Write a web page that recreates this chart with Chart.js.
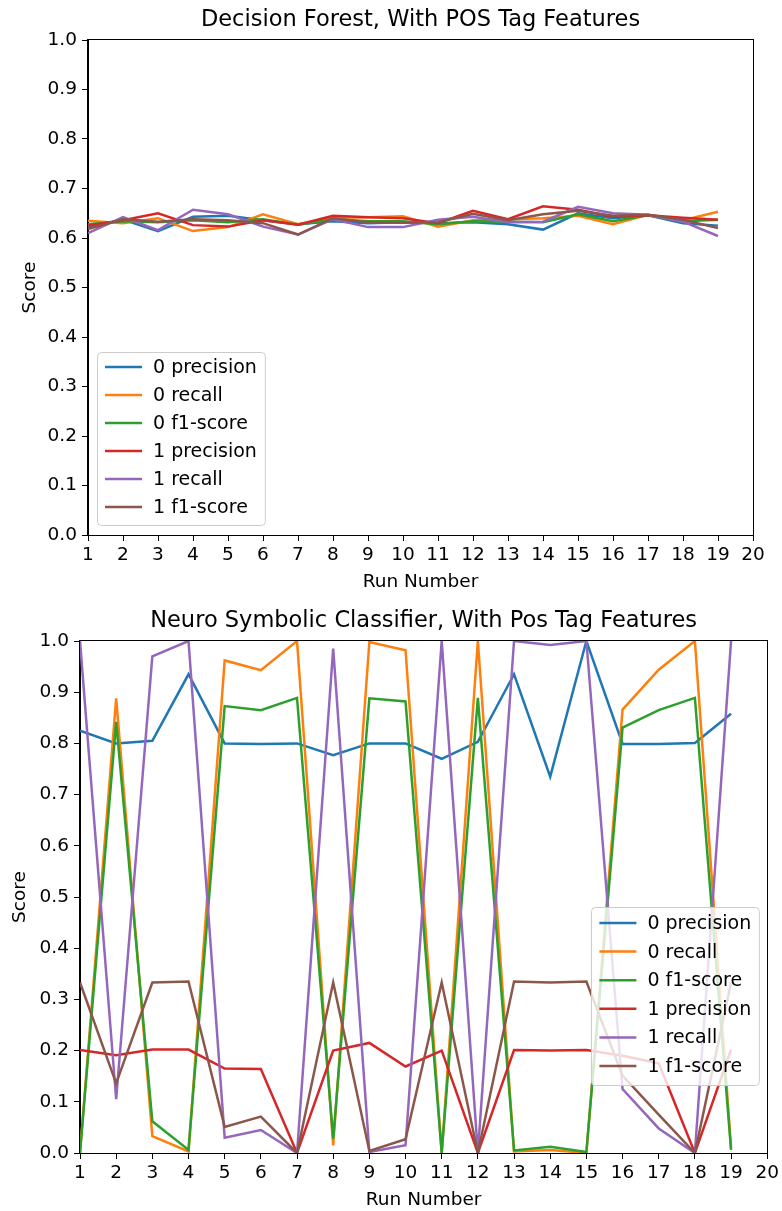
<!DOCTYPE html>
<html>
<head>
<meta charset="utf-8">
<title>Decision Forest / Neuro Symbolic Classifier scores</title>
<script src="https://cdn.jsdelivr.net/npm/chart.js@4.4.1/dist/chart.umd.min.js"></script>
<style>
  html, body { margin: 0; padding: 0; background: #fff; }
  #wrap { position: relative; width: 782px; height: 1211px; }
  canvas { position: absolute; left: 0; }
  #forestChart { top: 0; }
  #neuroChart { top: 600px; }
</style>
</head>
<body>
<div id="wrap">
  <canvas id="forestChart" width="782" height="600"></canvas>
  <canvas id="neuroChart" width="782" height="611"></canvas>
</div>
<script>
const runs = [1, 2, 3, 4, 5, 6, 7, 8, 9, 10, 11, 12, 13, 14, 15, 16, 17, 18, 19];
const seriesLabels = ['0 precision', '0 recall', '0 f1-score', '1 precision', '1 recall', '1 f1-score'];
const seriesColors = ['#1f77b4', '#ff7f0e', '#2ca02c', '#d62728', '#9467bd', '#8c564b'];

// Decision Forest, With POS Tag Features
const forestPrecision0 = [0.622, 0.637, 0.614, 0.643, 0.645, 0.636, 0.628, 0.634, 0.630, 0.632, 0.630, 0.632, 0.628, 0.617, 0.650, 0.640, 0.646, 0.630, 0.625];
const forestRecall0    = [0.635, 0.630, 0.640, 0.614, 0.622, 0.648, 0.628, 0.641, 0.642, 0.644, 0.623, 0.636, 0.638, 0.640, 0.645, 0.628, 0.647, 0.636, 0.653];
const forestF1_0       = [0.628, 0.634, 0.632, 0.636, 0.632, 0.638, 0.627, 0.638, 0.634, 0.634, 0.628, 0.634, 0.633, 0.632, 0.648, 0.634, 0.646, 0.634, 0.637];
const forestPrecision1 = [0.625, 0.636, 0.650, 0.626, 0.623, 0.636, 0.627, 0.645, 0.642, 0.640, 0.630, 0.655, 0.638, 0.664, 0.657, 0.643, 0.646, 0.641, 0.637];
const forestRecall1    = [0.610, 0.642, 0.616, 0.657, 0.648, 0.623, 0.607, 0.638, 0.622, 0.622, 0.637, 0.643, 0.632, 0.633, 0.663, 0.650, 0.647, 0.633, 0.604];
const forestF1_1       = [0.618, 0.638, 0.633, 0.638, 0.636, 0.630, 0.607, 0.640, 0.632, 0.631, 0.632, 0.649, 0.636, 0.648, 0.655, 0.645, 0.647, 0.637, 0.620];

// Neuro Symbolic Classifier, With Pos Tag Features
const neuroPrecision0 = [0.825, 0.800, 0.805, 0.935, 0.800, 0.799, 0.800, 0.777, 0.800, 0.800, 0.770, 0.803, 0.935, 0.735, 1.000, 0.799, 0.799, 0.801, 0.858];
const neuroRecall0    = [0.000, 0.888, 0.033, 0.003, 0.962, 0.943, 1.000, 0.015, 0.998, 0.982, 0.000, 1.000, 0.003, 0.006, 0.000, 0.866, 0.944, 1.000, 0.010];
const neuroF1_0       = [0.000, 0.842, 0.062, 0.006, 0.873, 0.865, 0.889, 0.028, 0.888, 0.882, 0.000, 0.889, 0.005, 0.012, 0.002, 0.831, 0.865, 0.889, 0.006];
const neuroPrecision1 = [0.201, 0.191, 0.202, 0.202, 0.165, 0.164, 0.000, 0.200, 0.215, 0.169, 0.200, 0.000, 0.201, 0.200, 0.201, 0.190, 0.175, 0.000, 0.202];
const neuroRecall1    = [1.000, 0.105, 0.970, 1.000, 0.030, 0.045, 0.000, 0.985, 0.002, 0.015, 1.000, 0.000, 1.000, 0.992, 1.000, 0.125, 0.048, 0.000, 1.000];
const neuroF1_1       = [0.333, 0.136, 0.333, 0.335, 0.051, 0.071, 0.000, 0.333, 0.004, 0.027, 0.333, 0.000, 0.335, 0.333, 0.335, 0.151, 0.075, 0.000, 0.333];

Chart.defaults.font.family = '"DejaVu Sans", sans-serif';
Chart.defaults.font.size = 18.5;
Chart.defaults.color = '#000';

// matplotlib-style axes box, title centred over the axes, legend box inside the plot
const frameAndLegend = {
  id: 'frameAndLegend',
  afterDatasetsDraw(chart, args, opts) {
    const { ctx, chartArea: a } = chart;
    ctx.save();
    ctx.strokeStyle = '#000';
    ctx.lineWidth = 1;
    ctx.strokeRect(Math.round(a.left) - 0.5, Math.round(a.top) - 0.5,
      Math.round(a.right - a.left) + 1, Math.round(a.bottom - a.top) + 1);

    ctx.fillStyle = '#000';
    ctx.font = '22.5px "DejaVu Sans"';
    ctx.textAlign = 'center';
    ctx.textBaseline = 'middle';
    ctx.fillText(opts.title, (a.left + a.right) / 2, opts.titleY);

    const sets = chart.data.datasets;
    ctx.font = '19px "DejaVu Sans"';
    ctx.textAlign = 'left';
    const textW = Math.max(...sets.map(d => ctx.measureText(d.label).width));
    const w = opts.padX + opts.lineLen + opts.gap + textW + opts.padX;
    const h = opts.padTop + opts.rowH * (sets.length - 1) + opts.padBottom;
    const x0 = opts.side === 'left' ? a.left + opts.dx : a.right - opts.dx - w;
    const y0 = a.bottom - opts.dy - h;

    ctx.beginPath();
    ctx.roundRect(Math.round(x0) + 0.5, Math.round(y0) + 0.5, w, h, 4);
    ctx.fillStyle = 'rgba(255,255,255,0.8)';
    ctx.fill();
    ctx.strokeStyle = '#cccccc';
    ctx.stroke();

    sets.forEach((d, i) => {
      const yy = y0 + opts.padTop + i * opts.rowH;
      ctx.strokeStyle = d.borderColor;
      ctx.lineWidth = d.borderWidth;
      ctx.beginPath();
      ctx.moveTo(x0 + opts.padX, yy);
      ctx.lineTo(x0 + opts.padX + opts.lineLen, yy);
      ctx.stroke();
      ctx.fillStyle = '#000';
      ctx.fillText(d.label, x0 + opts.padX + opts.lineLen + opts.gap, yy + 1);
    });
    ctx.restore();
  }
};

function makeChart(id, title, series, lay) {
  const datasets = series.map((vals, i) => ({
    label: seriesLabels[i],
    data: runs.map((r, k) => ({ x: r, y: vals[k] })),
    borderColor: seriesColors[i],
    backgroundColor: seriesColors[i],
    borderWidth: 2.5,
    pointRadius: 0,
    tension: 0,
    fill: false,
    order: series.length - i
  }));

  return new Chart(document.getElementById(id), {
    type: 'line',
    data: { datasets },
    plugins: [frameAndLegend],
    options: {
      responsive: false,
      animation: false,
      layout: { padding: { left: 0, right: lay.right, top: lay.top, bottom: 0 } },
      plugins: {
        legend: { display: false },
        tooltip: { enabled: false },
        title: { display: false },
        frameAndLegend: Object.assign({ title, titleY: lay.titleY }, lay.legend)
      },
      scales: {
        x: {
          type: 'linear',
          min: 1,
          max: 20,
          afterFit: s => { s.height = lay.xHeight; },
          ticks: { stepSize: 1, autoSkip: false, maxRotation: 0, padding: 3 },
          grid: { drawOnChartArea: false, tickLength: 6, color: '#000' },
          border: { color: '#000' },
          title: { display: true, text: 'Run Number', padding: { top: 0, bottom: lay.xTitlePad } }
        },
        y: {
          min: 0,
          max: 1,
          afterFit: s => { s.width = lay.yWidth; },
          ticks: { stepSize: 0.1, padding: 5, callback: v => v.toFixed(1) },
          grid: { drawOnChartArea: false, tickLength: 6, color: '#000' },
          border: { color: '#000' },
          title: { display: true, text: 'Score', padding: { top: lay.yTitlePad, bottom: 0 } }
        }
      }
    }
  });
}

document.addEventListener('DOMContentLoaded', () => {
  makeChart('forestChart', 'Decision Forest, With POS Tag Features',
    [forestPrecision0, forestRecall0, forestF1_0, forestPrecision1, forestRecall1, forestF1_1],
    {
      right: 29, top: 40, titleY: 20, xHeight: 65, yWidth: 88, xTitlePad: 7, yTitlePad: 19,
      legend: { side: 'left', dx: 9, dy: 10, padX: 8, lineLen: 37, gap: 11, padTop: 15, padBottom: 18, rowH: 28 }
    });

  makeChart('neuroChart', 'Neuro Symbolic Classifier, With Pos Tag Features',
    [neuroPrecision0, neuroRecall0, neuroF1_0, neuroPrecision1, neuroRecall1, neuroF1_1],
    {
      right: 14, top: 41, titleY: 21, xHeight: 58, yWidth: 80, xTitlePad: 0, yTitlePad: 9,
      legend: { side: 'right', dx: 8, dy: 68, padX: 8, lineLen: 37, gap: 11, padTop: 16, padBottom: 19, rowH: 28.6 }
    });
});
</script>
</body>
</html>
